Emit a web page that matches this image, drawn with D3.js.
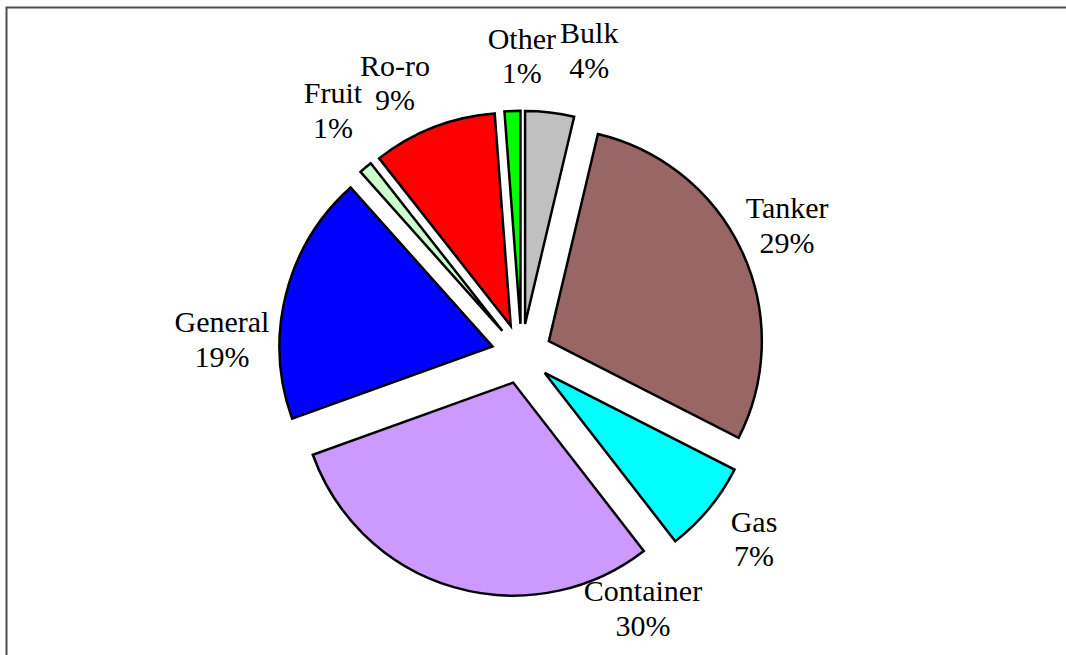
<!DOCTYPE html>
<html>
<head>
<meta charset="utf-8">
<script src="https://cdn.jsdelivr.net/npm/d3@7"></script>
<style>
  body { margin: 0; background: #fff; }
  svg { display: block; }
  text { font-family: "Liberation Serif", "Times New Roman", serif; font-size: 30px; fill: #000; }
</style>
</head>
<body>
<div id="vis"></div>
<script>
// Frame
const FRAME_WIDTH = 1066;
const FRAME_HEIGHT = 655;
const CENTER = {x: 521.6, y: 353.8};
const RADIUS = 213;
const EXPLODE = 30;
const LINE_GAP = 34.5;

// Data, clockwise from 12 o'clock
const categories = ["Bulk", "Tanker", "Gas", "Container", "General", "Fruit", "Ro-ro", "Other"];
const shares = [3.7, 28.8, 7.0, 30.0, 18.9, 1.0, 9.4, 1.2];
const colors = ["#C0C0C0", "#996666", "#00FFFF", "#CC99FF", "#0000FF", "#CCFFCC", "#FF0000", "#00FF00"];

// label placement: [angle shift from slice middle (deg), distance from centre (px)]
const LABEL_POLAR = {
  "Bulk": [5.9, 311],
  "Tanker": [-1, 295],
  "Gas": [-1.1, 297],
  "Container": [-41.7, 282],
  "General": [-11.4, 300],
  "Fruit": [2.2, 308],
  "Ro-ro": [-3.8, 299],
  "Other": [2.2, 298]
};

const svg = d3.select("#vis")
  .append("svg")
    .attr("width", FRAME_WIDTH)
    .attr("height", FRAME_HEIGHT);

// chart area border (runs off the right / bottom edge)
svg.append("rect")
  .attr("x", 6.5)
  .attr("y", 7.5)
  .attr("width", FRAME_WIDTH + 20)
  .attr("height", FRAME_HEIGHT + 20)
  .attr("fill", "none")
  .attr("stroke", "#4d4d4d")
  .attr("stroke-width", 2);

const pie = d3.pie()
  .sort(null)
  .value(d => d);

const arc = d3.arc()
  .innerRadius(0)
  .outerRadius(RADIUS);

const slices = pie(shares);
const mid = d => (d.startAngle + d.endAngle) / 2;

const g = svg.append("g")
  .attr("transform", "translate(" + CENTER.x + "," + CENTER.y + ")");

g.selectAll(".slice")
  .data(slices)
  .enter()
  .append("path")
    .attr("class", "slice")
    .attr("d", arc)
    .attr("transform", d => "translate(" + (Math.sin(mid(d)) * EXPLODE) + "," + (-Math.cos(mid(d)) * EXPLODE) + ")")
    .attr("fill", (d, i) => colors[i])
    .attr("stroke", "#000")
    .attr("stroke-width", 2.5)
    .attr("stroke-linejoin", "miter");

// labels
const labels = g.selectAll(".label")
  .data(slices)
  .enter()
  .append("text")
    .attr("class", "label")
    .attr("text-anchor", "middle")
    .attr("transform", (d, i) => {
      const p = LABEL_POLAR[categories[i]];
      const a = mid(d) + p[0] * Math.PI / 180;
      const x = Math.sin(a) * p[1];
      const y = -Math.cos(a) * p[1] - 7;
      return "translate(" + x + "," + y + ")";
    });

labels.append("tspan")
  .attr("x", 0)
  .attr("dy", 0)
  .text((d, i) => categories[i]);

labels.append("tspan")
  .attr("x", 0)
  .attr("dy", LINE_GAP)
  .text(d => Math.round(d.data) + "%");
</script>
</body>
</html>
